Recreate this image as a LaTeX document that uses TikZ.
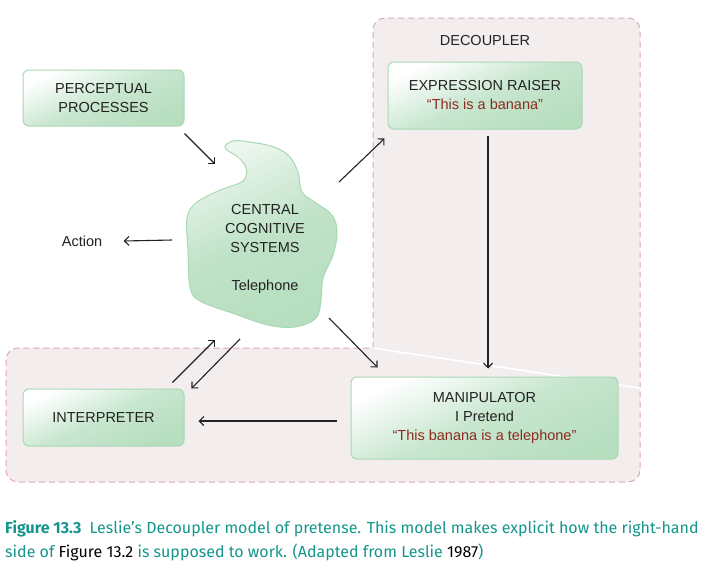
\documentclass[tikz,border=0pt]{standalone}
\usepackage{fontspec}
\setmainfont{Liberation Sans}
\newfontfamily\capfont{Fira Sans}
\usetikzlibrary{arrows.meta, positioning}

\definecolor{boxgreen}{HTML}{B6DEBF}
\definecolor{boxedge}{HTML}{A9D8B4}
\definecolor{zonefill}{HTML}{F3EDEE}
\definecolor{zoneedge}{HTML}{DFA9B6}
\definecolor{quotered}{HTML}{8C2B1F}
\definecolor{capteal}{HTML}{15968C}
\definecolor{ink}{HTML}{222222}

\tikzset{
  module/.style={draw=boxedge, line width=1pt, rounded corners=6pt, align=center,
    top color=white, bottom color=boxgreen, middle color=boxgreen!75!white,
    shading angle=25, text=ink, inner sep=0pt},
  zone/.style={draw=zoneedge, fill=zonefill, line width=1pt, dash pattern=on 6pt off 4pt},
  flow/.style={->, ink, line width=1.1pt},
  >={Straight Barb[length=4.5pt,width=9pt]}
}
\newcommand{\quo}[1]{\textcolor{quotered}{#1}}

\begin{document}
\begin{tikzpicture}[x=1pt, y=-1pt, font=\fontsize{14.5}{19}\selectfont]
\useasboundingbox[fill=white] (0,0) rectangle (701,581);

% decoupler zone
\draw[zone] (373,348) [rounded corners=12pt] -- (373,18) -- (640,18) -- (640,482) -- (6,482) -- (6,348) [sharp corners] -- (373,348);
\draw[white, line width=1.6pt] (373,348) -- (646,389);
\node[text=ink] (decoupler) at (485,41) {DECOUPLER};

% central systems blob
\draw[draw=boxedge, line width=1pt, top color=boxgreen!25!white, bottom color=boxgreen,
  middle color=boxgreen!85!white, shading angle=25]
  plot[smooth cycle, tension=0.6] coordinates {(225,148) (233,141) (250,142) (274,147) (289,156)
  (298,172) (302,192) (316,203) (332,215) (337,232) (333,255) (323,278) (321,300) (316,318)
  (295,327) (268,325) (235,314) (200,301) (190,287) (188,250) (187,218) (196,203) (218,191)
  (243,181) (246,168) (238,157)};
\node[text=ink, align=center] (ccs) at (265,248.5) {CENTRAL\\COGNITIVE\\SYSTEMS\\[19pt]Telephone};
\coordinate (c-nw) at (215,164);
\coordinate (c-ne) at (339,182);
\coordinate (c-w) at (172,240);
\coordinate (c-se) at (329,318);
\coordinate (c-sw1) at (215,340);
\coordinate (c-sw2) at (240,339);

% boxes
\node[module, minimum width=161pt, minimum height=56pt] (percept) at (103.5,98) {PERCEPTUAL\\PROCESSES};
\node[module, minimum width=194pt, minimum height=67pt] (expr) at (485,95.5) {EXPRESSION RAISER\\\quo{“This is a banana”}};
\node[module, minimum width=161pt, minimum height=57pt] (interp) at (103.5,417.5) {INTERPRETER};
\node[module, minimum width=267pt, minimum height=82pt] (manip) at (484.5,418) {MANIPULATOR\\I Pretend\\\quo{“This banana is a telephone”}};
\node[text=ink] (action) at (82,241) {Action};

% connectors
\draw[flow] ([shift={(0,7)}]percept.south east) -- (c-nw);
\draw[flow] (c-w) -- ([xshift=18pt]action.east);
\draw[flow] (c-ne) -- ([shift={(-3,9)}]expr.south west);
\draw[flow] ([shift={(3,6)}]expr.south) -- ([shift={(3.5,-8)}]manip.north);
\draw[flow] (c-se) -- ([shift={(27,-9)}]manip.north west);
\draw[flow] ([shift={(-12,-6)}]interp.north east) -- (c-sw1);
\draw[flow] (c-sw2) -- ([shift={(7,0)}]interp.north east);
\draw[flow] ([shift={(-14,3)}]manip.west) -- ([shift={(14,3.5)}]interp.east);

% caption
\node[anchor=base west, inner sep=0pt, text=capteal, font=\capfont\fontsize{16}{24}\selectfont] (cap1) at (5,533)
  {\textbf{Figure 13.3}\enspace Leslie’s Decoupler model of pretense. This model makes explicit how the right-hand};
\node[anchor=base west, inner sep=0pt, text=capteal, font=\capfont\fontsize{16}{24}\selectfont] (cap2) at (5,557)
  {side of \textcolor{black}{Figure 13.2} is supposed to work. (Adapted from Leslie \textcolor{black}{1987})};
\end{tikzpicture}
\end{document}
